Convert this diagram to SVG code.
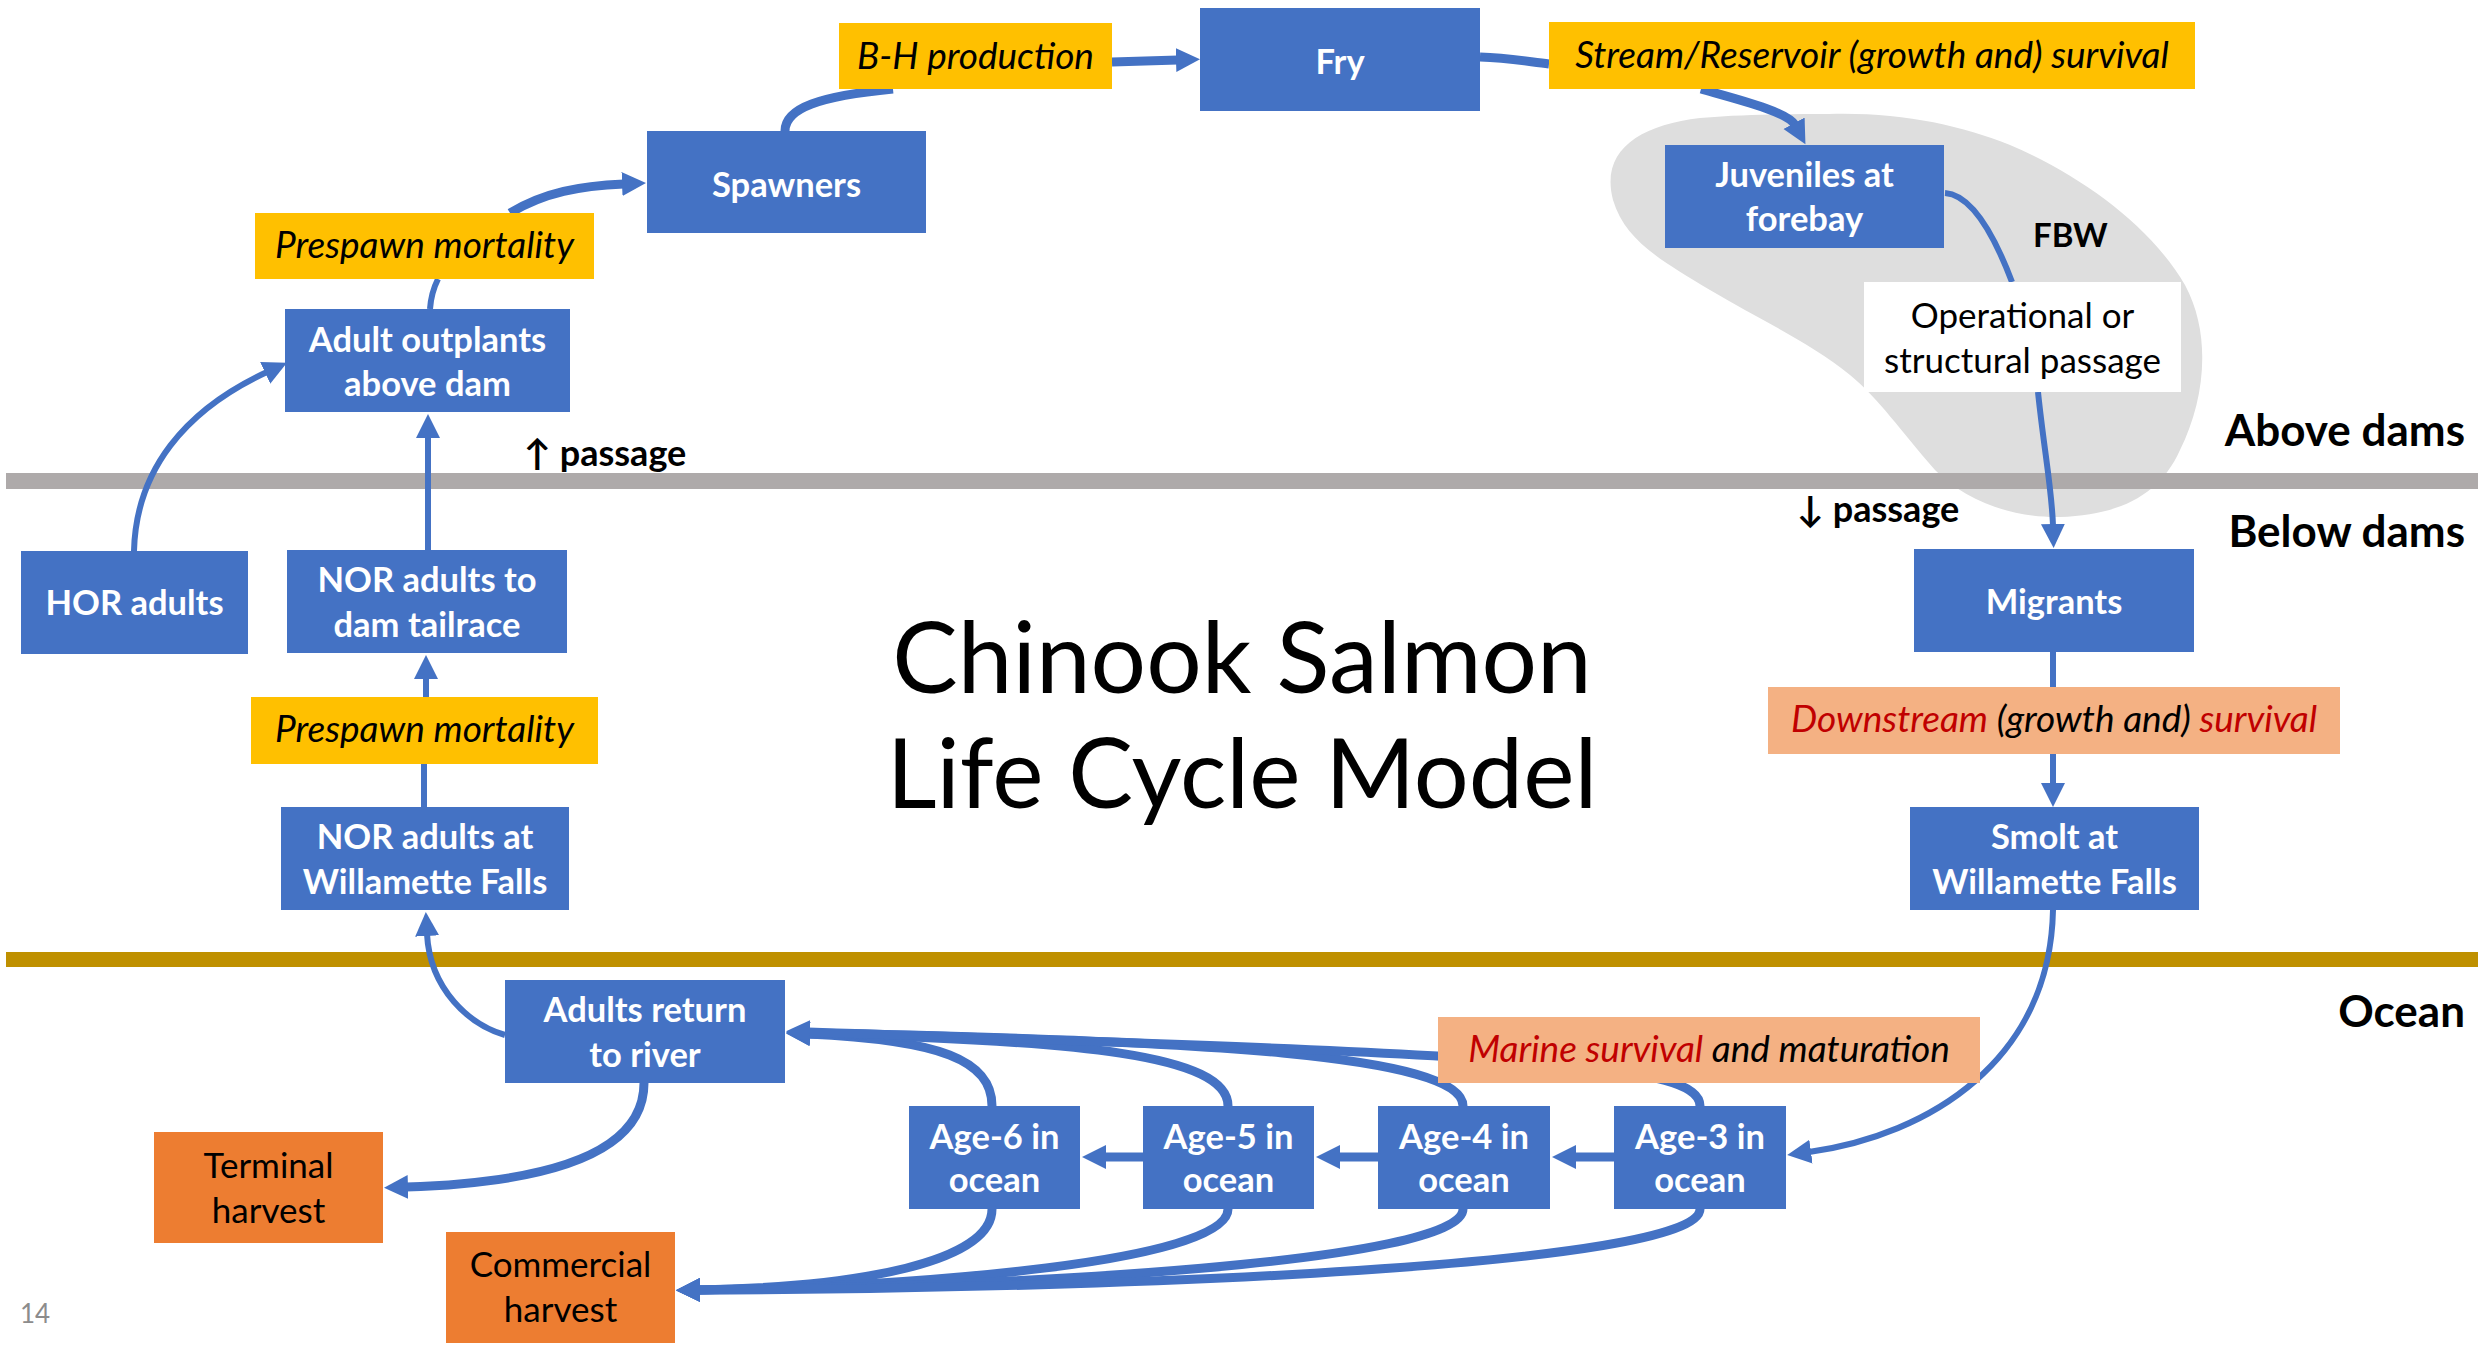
<svg xmlns="http://www.w3.org/2000/svg" width="2483" height="1347" viewBox="0 0 2483 1347">
<style>
.box{fill:#4472C4}
.yel{fill:#FFC000}
.sal{fill:#F4B183}
.org{fill:#ED7D31}
.nt{font-family:Lato,"Liberation Sans",sans-serif;font-weight:bold;font-size:34.5px;fill:#fff;text-anchor:middle}
.lt{font-family:Lato,"Liberation Sans",sans-serif;font-style:italic;font-size:37px;fill:#000;text-anchor:middle}
.rt{font-family:Lato,"Liberation Sans",sans-serif;font-size:35px;fill:#000;text-anchor:middle}
.bt{font-family:Lato,"DejaVu Sans",sans-serif;font-weight:bold;font-size:36px;fill:#000}
.zone{font-family:Lato,"Liberation Sans",sans-serif;font-weight:bold;font-size:44px;fill:#000;text-anchor:end}
.red{fill:#C00000}
.c{fill:none;stroke:#4472C4}
.tk{stroke-width:9}
.tn{stroke-width:6}
</style>
<defs>
<marker id="ah" markerUnits="userSpaceOnUse" markerWidth="26" markerHeight="26" refX="2" refY="12" orient="auto" viewBox="0 0 26 26">
<path d="M0,0 L24,12 L0,24 z" fill="#4472C4"/>
</marker>
</defs>
<rect width="2483" height="1347" fill="#fff"/>
<path id="blob" d="M1829,114 C1900,112 1960,125 2010,145 C2080,175 2150,225 2185,285 C2212,335 2205,400 2180,450 C2160,495 2120,515 2060,517 C2010,518 1965,500 1935,470 C1900,430 1880,400 1850,375 C1810,342 1760,320 1710,290 C1660,260 1625,240 1613,200 C1600,150 1640,125 1700,118 C1750,114 1790,114 1829,114 Z" fill="#DEDEDE"/>
<rect x="6" y="473" width="2472" height="16" fill="#AEAAAA"/>
<rect x="6" y="952" width="2472" height="15" fill="#BF9000"/>
<g id="connectors">
<path class="c tk" d="M1112,62 L1178,60" marker-end="url(#ah)"/>
<path class="c tk" d="M785,131 C785,108 820,96 893,89"/>
<path class="c tk" d="M510,213 C545,192 580,186 624,184" marker-end="url(#ah)"/>
<path class="c tn" d="M430,309 C431,295 435,285 438,279"/>
<path class="c tn" d="M134,551 C136,470 185,410 267,372" marker-end="url(#ah)"/>
<path class="c tn" d="M428,550 L428,436" marker-end="url(#ah)"/>
<path class="c tn" d="M426,697 L426,677" marker-end="url(#ah)"/>
<path class="c tn" d="M424,807 L424,764"/>
<path class="c tn" d="M505,1035 C470,1025 430,990 427,934" marker-end="url(#ah)"/>
<path class="c tk" d="M644,1083 C644,1160 530,1183 406,1187" marker-end="url(#ah)"/>
<path class="c tk" d="M1480,57 C1510,58 1530,62 1549,64"/>
<path class="c tk" d="M1701,89 C1740,100 1788,112 1795,125" marker-end="url(#ah)"/>
<path class="c tn" d="M1945,193 C1975,195 1998,245 2012,282"/>
<path class="c tn" d="M2038,392 C2044,450 2052,490 2053,526" marker-end="url(#ah)"/>
<path class="c tn" d="M2053,652 L2053,687"/>
<path class="c tn" d="M2053,754 L2053,785" marker-end="url(#ah)"/>
<path class="c tn" d="M2053,910 C2050,1060 1930,1135 1809,1152" marker-end="url(#ah)"/>
<path class="c tk" d="M1614,1157 L1574,1157" marker-end="url(#ah)"/>
<path class="c tk" d="M1378,1157 L1338,1157" marker-end="url(#ah)"/>
<path class="c tk" d="M1143,1157 L1104,1157" marker-end="url(#ah)"/>
<path class="c tk" d="M992,1106 C992,1060 940,1040 808,1034" marker-end="url(#ah)"/>
<path class="c tk" d="M1228,1106 C1228,1055 1080,1040 808,1034" marker-end="url(#ah)"/>
<path class="c tk" d="M1463,1106 C1463,1055 1200,1040 808,1033" marker-end="url(#ah)"/>
<path class="c tk" d="M1700,1106 C1700,1065 1550,1055 808,1032" marker-end="url(#ah)"/>
<path class="c tk" d="M992,1209 C992,1262 860,1287 698,1290" marker-end="url(#ah)"/>
<path class="c tk" d="M1228,1209 C1228,1262 920,1286 698,1290" marker-end="url(#ah)"/>
<path class="c tk" d="M1463,1209 C1463,1262 1020,1287 698,1290" marker-end="url(#ah)"/>
<path class="c tk" d="M1700,1209 C1700,1266 1120,1289 698,1290" marker-end="url(#ah)"/>
</g>
<g id="bh"><rect class="yel" x="839" y="23" width="273" height="66"/><text class="lt" x="975.5" y="69">B-H production</text></g>
<g id="fry"><rect class="box" x="1200" y="8" width="280" height="103"/><text class="nt" x="1340" y="74">Fry</text></g>
<g id="stream"><rect class="yel" x="1549" y="22" width="646" height="67"/><text class="lt" x="1872" y="68">Stream/Reservoir (growth and) survival</text></g>
<g id="spawners"><rect class="box" x="647" y="131" width="279" height="102"/><text class="nt" x="786.5" y="197">Spawners</text></g>
<g id="prespawn1"><rect class="yel" x="255" y="213" width="339" height="66"/><text class="lt" x="424.5" y="258">Prespawn mortality</text></g>
<g id="outplants"><rect class="box" x="285" y="309" width="285" height="103"/><text class="nt" x="427.5" y="352">Adult outplants</text><text class="nt" x="427.5" y="396">above dam</text></g>
<g id="juveniles"><rect class="box" x="1665" y="145" width="279" height="103"/><text class="nt" x="1804.5" y="187">Juveniles at</text><text class="nt" x="1804.5" y="231">forebay</text></g>
<g id="fbw"><text x="2033" y="247" font-family="Lato,'Liberation Sans',sans-serif" font-weight="bold" font-size="33" fill="#000">FBW</text></g>
<g id="operational"><rect x="1864" y="282" width="317" height="110" fill="#fff"/><text class="rt" x="2022.5" y="328">Operational or</text><text class="rt" x="2022.5" y="373">structural passage</text></g>
<g id="labels">
<text class="zone" x="2465" y="446">Above dams</text>
<text class="zone" x="2465" y="547">Below dams</text>
<text class="zone" x="2465" y="1027">Ocean</text>
<text class="bt" x="524" y="466">↑ passage</text>
<text class="bt" x="1797" y="522">↓ passage</text>
<text x="20" y="1323" font-family="Lato,'Liberation Sans',sans-serif" font-size="26" fill="#8C8C8C">14</text>
</g>
<g id="title"><text x="1242" y="693" font-family="Lato,'Liberation Sans',sans-serif" font-size="98" fill="#000" text-anchor="middle">Chinook Salmon</text><text x="1242" y="808" font-family="Lato,'Liberation Sans',sans-serif" font-size="97" fill="#000" text-anchor="middle">Life Cycle Model</text></g>
<g id="hor"><rect class="box" x="21" y="551" width="227" height="103"/><text class="nt" x="134.5" y="615">HOR adults</text></g>
<g id="nor-tailrace"><rect class="box" x="287" y="550" width="280" height="103"/><text class="nt" x="427" y="592">NOR adults to</text><text class="nt" x="427" y="637">dam tailrace</text></g>
<g id="migrants"><rect class="box" x="1914" y="549" width="280" height="103"/><text class="nt" x="2054" y="614">Migrants</text></g>
<g id="prespawn2"><rect class="yel" x="251" y="697" width="347" height="67"/><text class="lt" x="424.5" y="742">Prespawn mortality</text></g>
<g id="downstream"><rect class="sal" x="1768" y="687" width="572" height="67"/><text class="lt" x="2054" y="732"><tspan class="red">Downstream</tspan> (growth and) <tspan class="red">survival</tspan></text></g>
<g id="nor-falls"><rect class="box" x="281" y="807" width="288" height="103"/><text class="nt" x="425" y="849">NOR adults at</text><text class="nt" x="425" y="894">Willamette Falls</text></g>
<g id="smolt"><rect class="box" x="1910" y="807" width="289" height="103"/><text class="nt" x="2054.5" y="849">Smolt at</text><text class="nt" x="2054.5" y="894">Willamette Falls</text></g>
<g id="adults-return"><rect class="box" x="505" y="980" width="280" height="103"/><text class="nt" x="645" y="1022">Adults return</text><text class="nt" x="645" y="1067">to river</text></g>
<g id="marine"><rect class="sal" x="1438" y="1017" width="542" height="66"/><text class="lt" x="1709" y="1062"><tspan class="red">Marine survival</tspan> and maturation</text></g>
<g id="age6"><rect class="box" x="909" y="1106" width="171" height="103"/><text class="nt" x="994.5" y="1149">Age-6 in</text><text class="nt" x="994.5" y="1192">ocean</text></g>
<g id="age5"><rect class="box" x="1143" y="1106" width="171" height="103"/><text class="nt" x="1228.5" y="1149">Age-5 in</text><text class="nt" x="1228.5" y="1192">ocean</text></g>
<g id="age4"><rect class="box" x="1378" y="1106" width="172" height="103"/><text class="nt" x="1464" y="1149">Age-4 in</text><text class="nt" x="1464" y="1192">ocean</text></g>
<g id="age3"><rect class="box" x="1614" y="1106" width="172" height="103"/><text class="nt" x="1700" y="1149">Age-3 in</text><text class="nt" x="1700" y="1192">ocean</text></g>
<g id="terminal"><rect class="org" x="154" y="1132" width="229" height="111"/><text class="rt" x="268.5" y="1178">Terminal</text><text class="rt" x="268.5" y="1223">harvest</text></g>
<g id="commercial"><rect class="org" x="446" y="1232" width="229" height="111"/><text class="rt" x="560.5" y="1277">Commercial</text><text class="rt" x="560.5" y="1322">harvest</text></g>
</svg>
